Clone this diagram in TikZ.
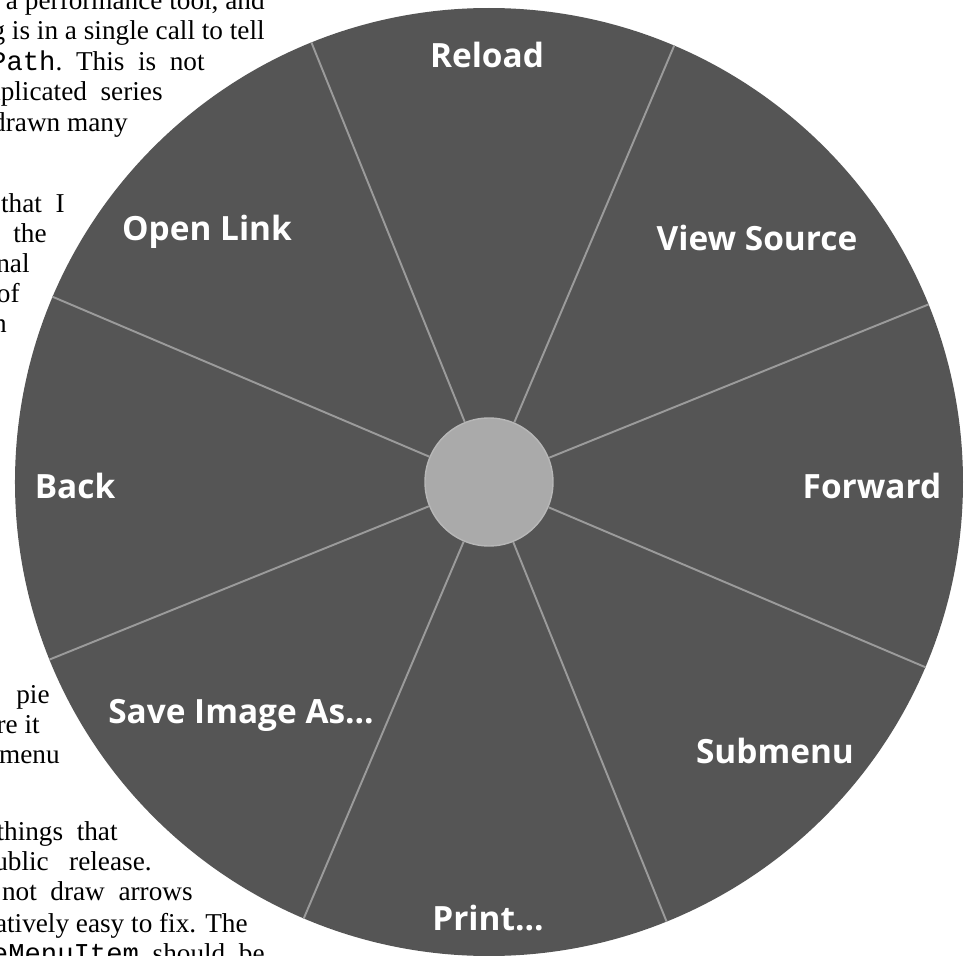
\documentclass[tikz,border=0pt]{standalone}
\usepackage{fontspec}
\setmainfont{Liberation Serif}
\setmonofont{Liberation Mono}
\newfontfamily\menufont{Open Sans}
\usepackage{tikz}
\usetikzlibrary{positioning}
\definecolor{wedgegray}{RGB}{85,85,85}
\definecolor{rulegray}{RGB}{155,155,155}
\definecolor{hubgray}{RGB}{170,170,170}
\tikzset{
  body/.style={anchor=base east,inner sep=0pt,text=black,font=\fontsize{15.5}{18}\selectfont},
  disk/.style={circle,fill=wedgegray,minimum size=18.96cm,inner sep=0pt},
  hub/.style={circle,fill=hubgray,draw=hubgray!85!white,line width=0.8pt,minimum size=2.56cm,inner sep=0pt},
  divider/.style={draw=rulegray,line width=1.1pt},
  item/.style={anchor=base,inner sep=0pt,text=white,font=\menufont\bfseries\fontsize{19}{21}\selectfont}
}

\begin{document}
\begin{tikzpicture}
\useasboundingbox (-9.78,-9.46) rectangle (9.58,9.64);
\clip (-9.78,-9.46) rectangle (9.58,9.64);
% page text running round the menu
\node[body] (t1) at (-4.48,9.44) {a performance tool, and};
\node[body] (t2) at (-4.48,8.84) {g is in a single call to tell};
\node[body] (t3) at (-5.68,8.22) {\texttt{Path}.\ \ This\ \ is\ \ not};
\node[body] (t4) at (-6.52,7.62) {mplicated\ \ series};
\node[body] (t5) at (-7.22,7.00) {drawn many};
\node[body] (t6) at (-8.48,5.40) {that\ \ I};
\node[body] (t7) at (-8.84,4.80) {f\ \ the};
\node[body] (t8) at (-9.18,4.20) {nal};
\node[body] (t9) at (-9.38,3.60) {of};
\node[body] (t10) at (-9.64,3.00) {n};
\node[body] (t11) at (-8.78,-4.42) {pie};
\node[body] (t12) at (-8.98,-5.02) {re it};
\node[body] (t13) at (-8.58,-5.62) {menu};
\node[body] (t14) at (-7.42,-7.16) {things\ \ that};
\node[body] (t15) at (-6.74,-7.76) {ublic\ \ \ release.};
\node[body] (t16) at (-5.92,-8.36) {not\ \ draw\ \ arrows};
\node[body] (t17) at (-4.82,-9.00) {atively easy to fix. The};
\node[body] (t18) at (-4.48,-9.60) {\texttt{eMenuItem}\ \ should\ \ be};
% pie menu
\node[disk] (menu) at (0,0) {};
\node[hub] (hub) at (0,0) {};
\foreach \a in {22.5,67.5,...,337.5}
  \draw[divider] (hub.\a) -- (menu.\a);
\node[item] (reload) at (-0.04,8.28) {Reload};
\node[item] (viewsrc) at (5.36,4.64) {View Source};
\node[item] (forward) at (7.66,-0.32) {Forward};
\node[item] (submenu) at (5.72,-5.62) {Submenu};
\node[item] (print) at (-0.02,-8.96) {Print...};
\node[item] (saveimg) at (-4.96,-4.82) {Save Image As...};
\node[item] (back) at (-8.28,-0.32) {Back};
\node[item] (openlink) at (-5.64,4.84) {Open Link};
\end{tikzpicture}
\end{document}
